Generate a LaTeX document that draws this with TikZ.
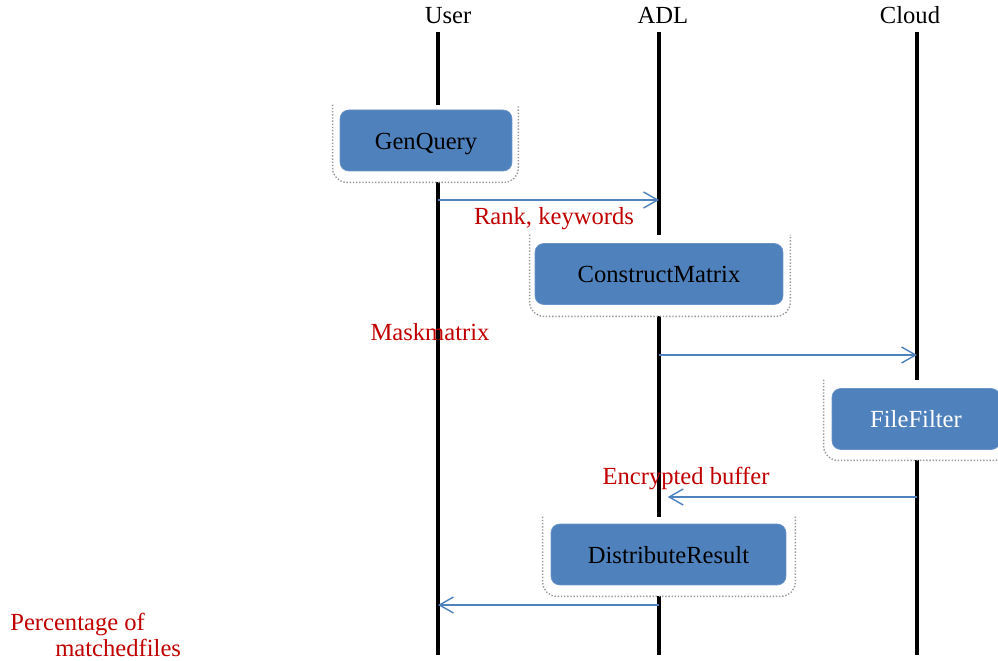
\documentclass[tikz,border=0pt]{standalone}
\usepackage{fontspec}
\setmainfont{Liberation Serif}
\usepackage{xcolor}
\usetikzlibrary{arrows.meta, positioning, calc}
\definecolor{boxblue}{HTML}{4F81BD}
\definecolor{notered}{HTML}{C00000}
\newcommand{\seqfont}{\fontsize{14}{14.6}\selectfont}

\begin{document}
\begin{tikzpicture}[
    x=0.02cm, y=-0.02cm,
    stage/.style={rectangle, rounded corners=5pt, fill=boxblue, draw=boxblue!85!white, minimum height=1.22cm, inner sep=0pt, text height=12pt, text depth=2pt, font=\seqfont},
    plate/.style={rectangle, fill=white, inner sep=0pt},
    rim/.style={draw=gray!80, densely dotted, line width=0.8pt, rounded corners=8pt},
    actor/.style={font=\seqfont, inner sep=0pt, anchor=base},
    life/.style={line width=2.3pt},
    msg/.style={-{Straight Barb[length=2.8mm, width=3.2mm]}, draw=boxblue, line width=0.8pt},
    note/.style={font=\seqfont, text=notered, inner sep=0pt, anchor=base},
]
    \useasboundingbox (0,0) rectangle (998,661);

    \node[actor] (user) at (448,24) {User};
    \node[actor] (adl) at (663,24) {ADL};
    \node[actor] (cloud) at (910,24) {Cloud};

    % lifelines
    \coordinate (uTop) at (438,32);
    \coordinate (uBot) at (438,655);
    \coordinate (aTop) at (659,32);
    \coordinate (aBot) at (659,655);
    \coordinate (cTop) at (917,32);
    \coordinate (cBot) at (917,655);
    \draw[life] (uTop) -- (uBot);
    \draw[life] (aTop) -- (aBot);
    \draw[life] (cTop) -- (cBot);

    % boxes
    \node[plate, minimum width=3.7cm, minimum height=1.54cm] (genqF) at (425.5,143.5) {};
    \draw[rim] (genqF.north west) -- (genqF.south west) -- (genqF.south east) -- (genqF.north east);
    \node[stage, minimum width=3.44cm] (genq) at (426,140.5) {GenQuery};

    \node[plate, minimum width=5.2cm, minimum height=1.62cm] (conmF) at (660,275.5) {};
    \draw[rim] (conmF.north west) -- (conmF.south west) -- (conmF.south east) -- (conmF.north east);
    \node[stage, minimum width=4.96cm] (conm) at (659,274) {ConstructMatrix};

    \node[plate, minimum width=3.68cm, minimum height=1.6cm] (filtF) at (916,420) {};
    \draw[rim] (filtF.north west) -- (filtF.south west) -- (filtF.south east) -- (filtF.north east);
    \node[stage, minimum width=3.36cm, text=white] (filt) at (916,419) {FileFilter};

    \node[plate, minimum width=5.04cm, minimum height=1.58cm] (distF) at (669,556.5) {};
    \draw[rim] (distF.north west) -- (distF.south west) -- (distF.south east) -- (distF.north east);
    \node[stage, minimum width=4.7cm] (dist) at (668.5,554.5) {DistributeResult};

    % messages
    \coordinate (m1) at (0,200);
    \coordinate (m2) at (0,355);
    \coordinate (m3) at (0,497);
    \coordinate (m4) at (0,605);
    \draw[msg] (uTop |- m1) -- (aTop |- m1);
    \draw[msg] (aTop |- m2) -- (cTop |- m2);
    \draw[msg, shorten >=5pt] (cTop |- m3) -- (aTop |- m3);
    \draw[msg] (aTop |- m4) -- (uTop |- m4);

    \node[note] (rank) at (554,225) {Rank, keywords};
    \node[note] (mask) at (430,341) {Maskmatrix};
    \node[note] (buf) at (686,485) {Encrypted buffer};
    \node[note, anchor=north west, align=left] (pct) at (10,613) {Percentage of\\\hspace*{0.9cm}matchedfiles};
\end{tikzpicture}
\end{document}
